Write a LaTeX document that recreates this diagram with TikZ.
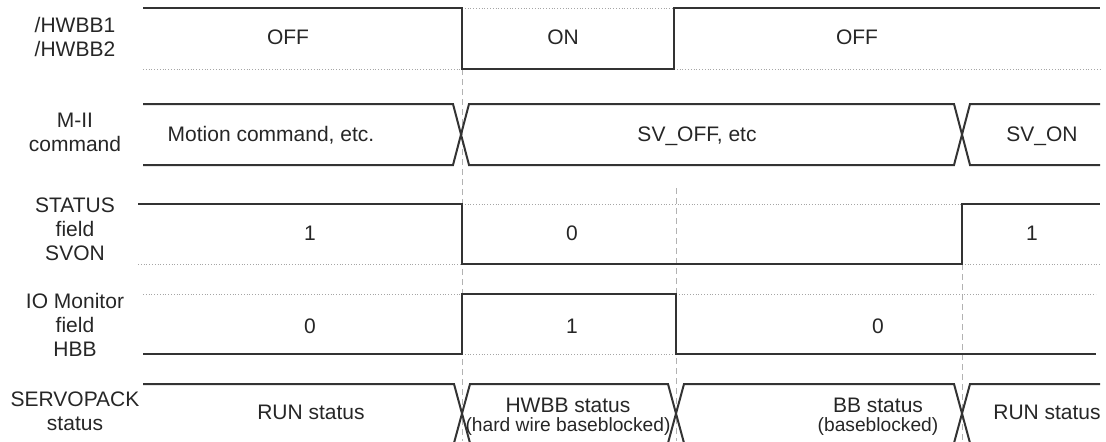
\documentclass[tikz,border=0pt]{standalone}
\usepackage{fontspec}
\setmainfont{Liberation Sans}
\usetikzlibrary{positioning}

\begin{document}
\begin{tikzpicture}[
  x=0.5pt, y=-0.5pt,
  sig/.style={line width=1pt, black!80},
  idle/.style={line width=0.4pt, gray!70, densely dotted},
  guide/.style={line width=0.5pt, gray!60, dash pattern=on 3pt off 2pt},
  lbl/.style={align=center, font=\fontsize{10.5}{12}\selectfont, text=black!85, inner sep=0pt},
  note/.style={font=\fontsize{9.6}{11}\selectfont},
]
\useasboundingbox (0,0) rectangle (1106,441);

% timing guides
\draw[guide] (462,69) -- (462,441);
\draw[guide] (676,188) -- (676,441);
\draw[guide] (962,264) -- (962,441);

% /HWBB
\draw[idle] (143,69) -- (462,69) (462,8) -- (674,8) (674,69) -- (1100,69);
\draw[sig] (143,8) -- (462,8) -- (462,69) -- (674,69) -- (674,8) -- (1100,8);

% M-II command
\draw[sig] (143,104) -- (453,104) -- (469,165) -- (954,165) -- (970,104) -- (1100,104);
\draw[sig] (143,165) -- (453,165) -- (469,104) -- (954,104) -- (970,165) -- (1100,165);

% STATUS SVON
\draw[idle] (138,264) -- (462,264) (462,204) -- (962,204) (962,264) -- (1100,264);
\draw[sig] (138,204) -- (462,204) -- (462,264) -- (962,264) -- (962,204) -- (1100,204);

% IO Monitor HBB
\draw[idle] (143,294) -- (462,294) (462,354) -- (676,354) (676,294) -- (1096,294);
\draw[sig] (143,354) -- (462,354) -- (462,294) -- (676,294) -- (676,354) -- (1096,354);

% SERVOPACK status
\draw[sig] (143,384) -- (454,384) -- (470,443) -- (668,443) -- (684,384) -- (954,384) -- (970,443) -- (1100,443);
\draw[sig] (143,443) -- (454,443) -- (470,384) -- (668,384) -- (684,443) -- (954,443) -- (970,384) -- (1100,384);

% signal names
\node[lbl] (hwbbname) at (75,37) {/HWBB1\\/HWBB2};
\node[lbl] (cmdname) at (75,132) {M-II\\command};
\node[lbl] (svonname) at (75,229) {STATUS\\field\\SVON};
\node[lbl] (hbbname) at (75,325) {IO Monitor\\field\\HBB};
\node[lbl] (servoname) at (75,411) {SERVOPACK\\status};

% values
\node[lbl] (off1) at (288,37) {OFF};
\node[lbl] (on) at (563,37) {ON};
\node[lbl] (off2) at (857,37) {OFF};
\node[lbl] (motion) at (271,135) {Motion command, etc.};
\node[lbl] (svoff) at (697,136) {SV\_OFF, etc};
\node[lbl] (svon) at (1042,136) {SV\_ON};
\node[lbl] (svon1) at (310,233) {1};
\node[lbl] (svon0) at (572,233) {0};
\node[lbl] (svon1b) at (1032,233) {1};
\node[lbl] (hbb0) at (310,326) {0};
\node[lbl] (hbb1) at (572,326) {1};
\node[lbl] (hbb0b) at (878,326) {0};
\node[lbl] (run1) at (311,412) {RUN status};
\node[lbl] (hwbbst) at (568,405) {HWBB status};
\node[lbl, note] (hwbbnote) at (568,427) {(hard wire baseblocked)};
\node[lbl] (bbst) at (878,405) {BB status};
\node[lbl, note] (bbnote) at (878,427) {(baseblocked)};
\node[lbl] (run2) at (1047,412) {RUN status};
\end{tikzpicture}
\end{document}
